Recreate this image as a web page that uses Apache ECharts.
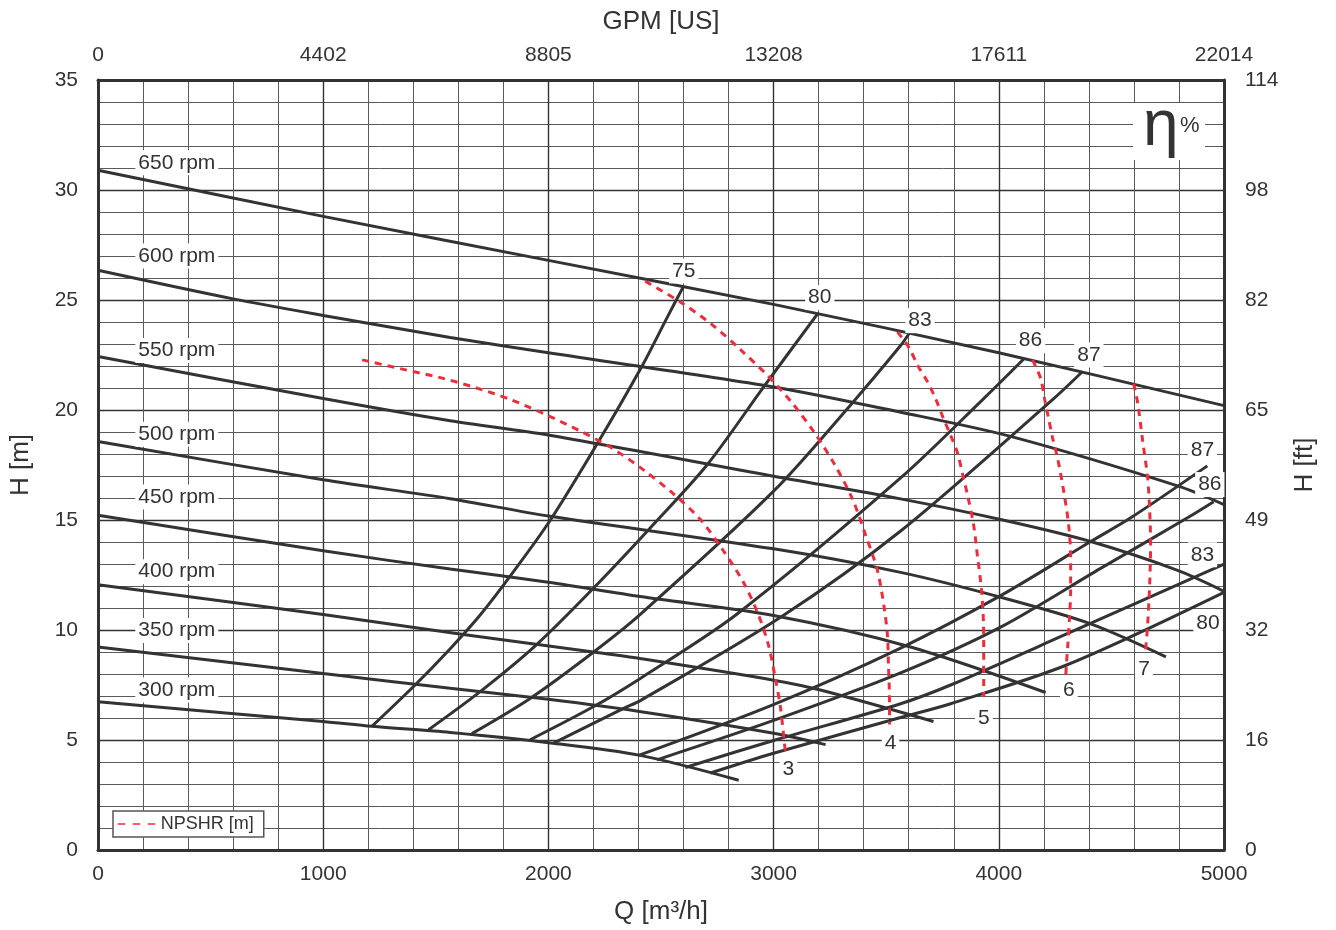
<!DOCTYPE html>
<html>
<head>
<meta charset="utf-8">
<title>Pump performance curves</title>
<script src="https://cdn.jsdelivr.net/npm/echarts@6/dist/echarts.min.js"></script>
<style>
  html, body { margin: 0; padding: 0; background: #ffffff; }
  #chart { width: 1336px; height: 930px; }
</style>
</head>
<body>
<div id="chart"></div>
<script>
// Flow Q in m³/h, head H in m.

// Secondary tick labels (US GPM on top, feet on the right)
const gpmTicks = ['0', '4402', '8805', '13208', '17611', '22014'];
const ftTicks = ['0', '16', '32', '49', '65', '82', '98', '114'];

// Head curves for each speed, [Q, H]
const speedNames = ['650 rpm', '600 rpm', '550 rpm', '500 rpm', '450 rpm', '400 rpm', '350 rpm', '300 rpm'];
const rpm650 = [[0, 30.9], [1000, 28.8], [2000, 26.8], [3000, 24.8], [4000, 22.6], [5000, 20.2]];
const rpm600 = [[0, 26.35], [600, 25.05], [1000, 24.3], [1564, 23.3], [2000, 22.6], [3000, 21.05], [3564, 19.9], [4052, 18.8], [4794, 16.55], [5000, 15.7]];
const rpm550 = [[0, 22.43], [1000, 20.52], [1564, 19.51], [2000, 18.86], [3000, 16.99], [3564, 15.96], [4008, 15.02], [4408, 14.02], [4794, 12.71], [5000, 11.76]];
const rpm500 = [[0, 18.57], [1000, 16.83], [1564, 15.97], [2000, 15.18], [3000, 13.69], [3564, 12.62], [4008, 11.49], [4408, 10.28], [4742, 8.78]];
const rpm450 = [[0, 15.22], [1000, 13.6], [1564, 12.77], [2000, 12.17], [2408, 11.52], [3000, 10.66], [3608, 9.23], [4208, 7.16]];
const rpm400 = [[0, 12.06], [1000, 10.7], [1622, 9.8], [2200, 9.0], [2408, 8.7], [3000, 7.72], [3208, 7.27], [3710, 5.84]];
const rpm350 = [[0, 9.23], [1000, 8.02], [1564, 7.35], [2000, 6.85], [2404, 6.3], [3000, 5.31], [3231, 4.79]];
const rpm300 = [[0, 6.74], [1000, 5.84], [1216, 5.62], [1564, 5.34], [2000, 4.88], [2408, 4.3], [2845, 3.17]];
const speedLabelAt = [[350, 31.24], [350, 27.0], [350, 22.7], [350, 18.9], [350, 16.04], [350, 12.65], [350, 9.98], [350, 7.27]];

// Efficiency iso-lines (%), rising branch and falling branch
const effNames = ['75', '80', '83', '86', '87'];
const eff75 = [[1216, 5.62], [1408, 7.5], [1564, 9.15], [1697, 10.68], [1831, 12.46], [2009, 15.0], [2216, 18.45], [2416, 22.0], [2527, 24.2], [2600, 25.62]];
const eff80 = [[1468, 5.47], [1697, 7.2], [1949, 9.35], [2201, 11.91], [2453, 14.65], [2705, 17.51], [2956, 21.05], [3195, 24.37]];
const eff83 = [[1660, 5.29], [1919, 6.89], [2201, 9.0], [2408, 10.71], [3000, 16.31], [3341, 20.22], [3564, 22.93], [3603, 23.5]];
const eff86 = [[1919, 5.01], [2201, 6.52], [2408, 7.8], [2838, 10.73], [3564, 16.91], [3933, 20.52], [4112, 22.33]];
const eff87 = [[2023, 4.86], [2334, 6.44], [2408, 6.79], [3031, 10.58], [3564, 14.5], [4244, 20.52], [4372, 21.75]];
const effLabelAt = [[2601, 26.32], [3205, 25.11], [3650, 24.06], [4141, 23.15], [4400, 22.5]];

const effRightNames = ['87', '86', '83', '80'];
const eff87r = [[2400, 4.3], [2999, 6.61], [3564, 9.18], [4008, 11.56], [4408, 14.02], [4586, 15.1], [4926, 17.46]];
const eff86r = [[2482, 4.1], [3000, 5.89], [3564, 8.05], [4008, 10.13], [4452, 12.8], [4838, 15.1], [4954, 15.83]];
const eff83r = [[2608, 3.75], [3000, 4.98], [3564, 6.65], [3786, 7.5], [4304, 9.83], [5000, 12.99]];
const eff80r = [[2719, 3.5], [3000, 4.4], [3564, 6.02], [3786, 6.65], [4304, 8.42], [5000, 11.71]];
const effRightLabelAt = [[4904, 18.19], [4937, 16.61], [4904, 13.42], [4929, 10.31]];

// Constant NPSHR lines (m)
const npshNames = ['3', '4', '5', '6', '7'];
const npsh3 = [[1173, 22.28], [1342, 21.88], [1520, 21.47], [1675, 21.02], [1831, 20.48], [1995, 19.76], [2142, 19.04], [2288, 18.23], [2422, 17.28], [2555, 16.19], [2675, 15.02], [2773, 13.66], [2866, 12.17], [2933, 10.68], [2977, 9.32], [3008, 7.79], [3030, 6.52], [3043, 5.35], [3052, 4.49]];
const npsh4 = [[2430, 25.85], [2586, 24.91], [2728, 23.87], [2853, 22.74], [2973, 21.57], [3084, 20.3], [3186, 18.9], [3275, 17.45], [3350, 15.96], [3408, 14.33], [3461, 12.71], [3492, 10.95], [3506, 9.69], [3510, 8.42], [3514, 7.2], [3515, 5.71]];
const npsh5 = [[3550, 23.55], [3599, 22.87], [3643, 21.97], [3683, 21.29], [3719, 20.52], [3754, 19.62], [3786, 18.85], [3817, 18.04], [3839, 17.09], [3861, 16.14], [3888, 14.79], [3906, 13.3], [3923, 11.85], [3932, 10.27], [3933, 8.78], [3933, 6.97]];
const npsh6 = [[4150, 22.28], [4186, 21.43], [4203, 20.52], [4221, 19.62], [4239, 18.72], [4261, 17.81], [4288, 16.32], [4310, 14.79], [4319, 13.3], [4319, 11.8], [4314, 10.58], [4306, 9.23], [4301, 8.55], [4297, 7.87]];
const npsh7 = [[4599, 21.2], [4617, 20.3], [4639, 18.58], [4661, 16.91], [4670, 15.42], [4674, 13.88], [4670, 12.08], [4661, 10.27], [4652, 9.1]];
const npshLabelAt = [[3066, 3.66], [3519, 4.86], [3934, 5.99], [4311, 7.27], [4645, 8.24]];

const FONT = '"Liberation Sans", Arial, Helvetica, sans-serif';
const INK = '#333333';
const RED = '#ec2d3b';
const NPSH_NAME = 'NPSHR [m]';

function blackCurve(data) {
  return {
    type: 'line', data: data, symbol: 'none', smooth: 0.3, silent: true, z: 3,
    lineStyle: { color: INK, width: 3 }
  };
}
function redCurve(data) {
  return {
    type: 'line', name: NPSH_NAME, data: data, symbol: 'none', smooth: 0.3, silent: true, z: 4,
    itemStyle: { color: RED },
    lineStyle: { color: RED, width: 3, type: [7, 6] }
  };
}
function labelSeries(names, anchors) {
  return {
    type: 'scatter', silent: true, z: 6, symbolSize: 1,
    itemStyle: { color: 'rgba(0,0,0,0)', opacity: 1 },
    data: names.map((n, i) => ({ name: n, value: anchors[i] })),
    label: {
      show: true, position: 'inside', formatter: '{b}',
      fontFamily: FONT, fontSize: 21, color: INK, opacity: 1,
      backgroundColor: '#ffffff', padding: [2, 3]
    }
  };
}

const series = [].concat(
  [rpm650, rpm600, rpm550, rpm500, rpm450, rpm400, rpm350, rpm300].map(blackCurve),
  [eff75, eff80, eff83, eff86, eff87, eff87r, eff86r, eff83r, eff80r].map(blackCurve),
  [npsh3, npsh4, npsh5, npsh6, npsh7].map(redCurve),
  [
    labelSeries(speedNames, speedLabelAt),
    labelSeries(effNames, effLabelAt),
    labelSeries(effRightNames, effRightLabelAt),
    labelSeries(npshNames, npshLabelAt)
  ]
);

const tickText = { fontFamily: FONT, fontSize: 21, color: INK };
const nameText = { fontFamily: FONT, fontSize: 26, color: INK };
const frame = { show: true, onZero: false, lineStyle: { color: INK, width: 3 } };

const option = {
  animation: false,
  backgroundColor: '#ffffff',
  grid: { left: 98, right: 112, top: 80, bottom: 76, containLabel: false },
  xAxis: [
    {
      type: 'value', position: 'bottom', min: 0, max: 5000, interval: 1000,
      name: 'Q [m³/h]', nameLocation: 'middle', nameGap: 49, nameTextStyle: nameText,
      axisLine: frame, axisTick: { show: false },
      axisLabel: Object.assign({ margin: 14, formatter: v => String(v) }, tickText),
      splitLine: { show: true, lineStyle: { color: '#333333', width: 1.4 } },
      minorTick: { show: false, splitNumber: 5 },
      minorSplitLine: { show: true, lineStyle: { color: '#5a5a5a', width: 1 } }
    },
    {
      type: 'value', position: 'top', min: 0, max: 5000, interval: 1000,
      name: 'GPM [US]', nameLocation: 'middle', nameGap: 45, nameTextStyle: nameText,
      axisLine: frame, axisTick: { show: false },
      axisLabel: Object.assign({ margin: 14, formatter: v => gpmTicks[Math.round(v / 1000)] }, tickText),
      splitLine: { show: false }
    }
  ],
  yAxis: [
    {
      type: 'value', position: 'left', min: 0, max: 35, interval: 5,
      name: 'H [m]', nameLocation: 'middle', nameGap: 64, nameRotate: 90, nameTextStyle: nameText,
      axisLine: frame, axisTick: { show: false },
      axisLabel: Object.assign({ margin: 20 }, tickText),
      splitLine: { show: true, lineStyle: { color: '#333333', width: 1.4 } },
      minorTick: { show: false, splitNumber: 5 },
      minorSplitLine: { show: true, lineStyle: { color: '#5a5a5a', width: 1 } }
    },
    {
      type: 'value', position: 'right', min: 0, max: 35, interval: 5,
      name: 'H [ft]', nameLocation: 'middle', nameGap: 68, nameRotate: 90, nameTextStyle: nameText,
      axisLine: frame, axisTick: { show: false },
      axisLabel: Object.assign({ margin: 21, formatter: v => ftTicks[Math.round(v / 5)] }, tickText),
      splitLine: { show: false }
    }
  ],
  legend: {
    data: [NPSH_NAME], left: 113, top: 811, orient: 'horizontal',
    padding: [4, 10, 4, 4], itemWidth: 38, itemHeight: 14, itemGap: 0,
    borderColor: '#555555', borderWidth: 1.5, backgroundColor: '#ffffff',
    selectedMode: false,
    textStyle: { fontFamily: FONT, fontSize: 18, color: INK },
    itemStyle: { opacity: 0 },
    lineStyle: { color: RED, width: 1.5, type: [7.5, 7.5] }
  },
  graphic: [
    { type: 'rect', shape: { x: 1133, y: 103, width: 72, height: 57 }, style: { fill: '#ffffff' }, z: 10, silent: true },
    { type: 'text', x: 1143, y: 95, z: 11, silent: true, style: { text: 'η', font: '64px ' + FONT, fill: INK } },
    { type: 'text', x: 1180, y: 115, z: 11, silent: true, style: { text: '%', font: '22px ' + FONT, fill: INK } }
  ],
  series: series
};

const chart = echarts.init(document.getElementById('chart'), null, { renderer: 'canvas' });
chart.setOption(option);
</script>
</body>
</html>
